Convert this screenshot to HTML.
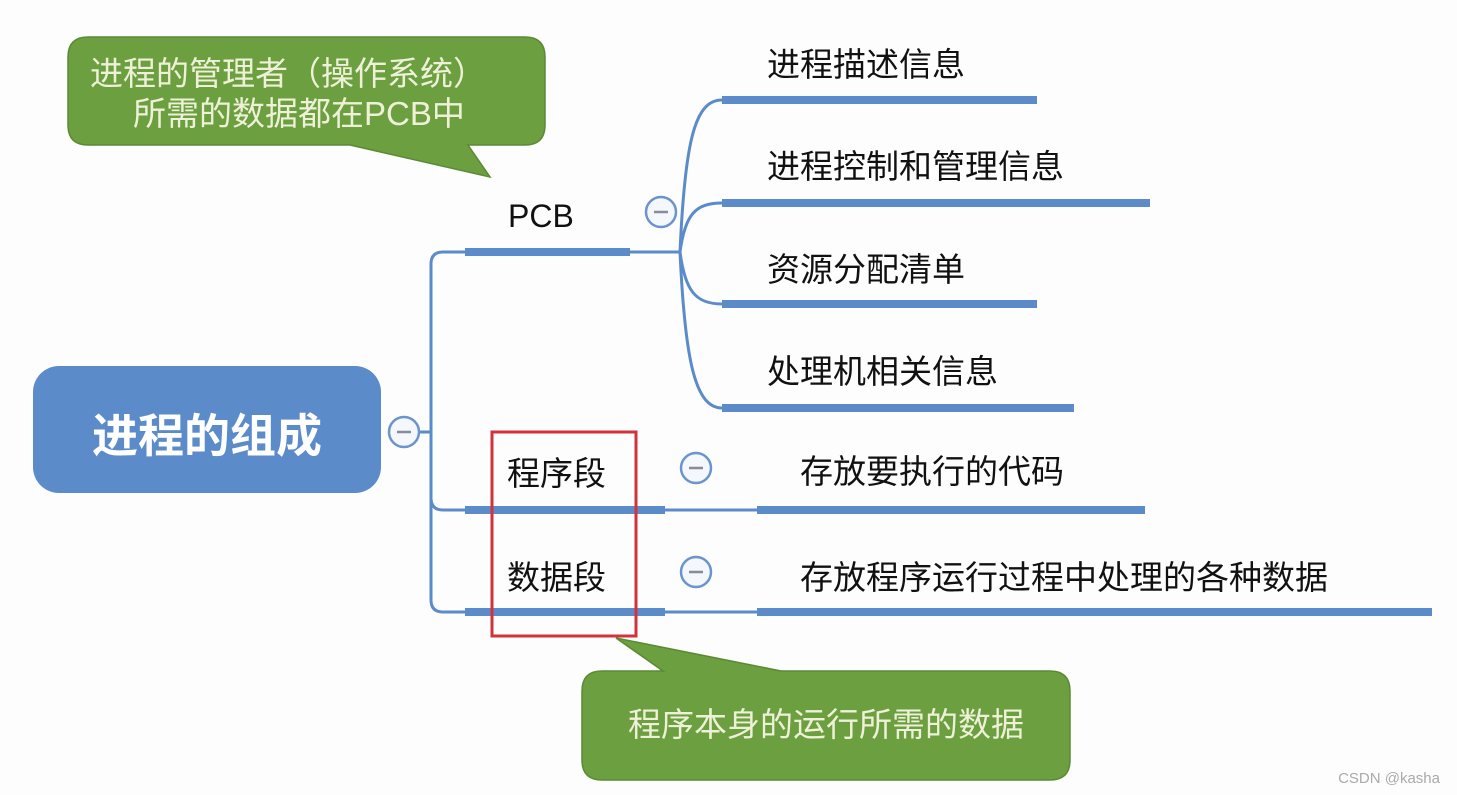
<!DOCTYPE html>
<html><head><meta charset="utf-8"><style>
html,body{margin:0;padding:0;background:#fff;}
svg{display:block;}
text{font-family:"Liberation Sans","Noto Sans CJK SC",sans-serif;}
</style></head><body>
<svg width="1457" height="795" viewBox="0 0 1457 795" xmlns="http://www.w3.org/2000/svg">
<rect width="1457" height="795" fill="#fdfdfd"/>
<!-- callout 1 -->
<path d="M88,37 H525 Q545,37 545,57 V125 Q545,145 525,145 H468 L490,177 L350,145 H88 Q68,145 68,125 V57 Q68,37 88,37 Z" fill="#6c9f3f" stroke="#5b8a34" stroke-width="1.5"/>
<text x="90" y="85" font-size="33" fill="#eef0d8">进程的管理者（操作系统）</text>
<text x="133" y="125" font-size="33" fill="#eef0d8">所需的数据都在PCB中</text>
<!-- root -->
<rect x="33" y="366" width="348" height="127" rx="26" fill="#5b8bc9"/>
<text x="207" y="452" font-size="46" font-weight="bold" fill="#fff" text-anchor="middle" font-family="Liberation Sans,Noto Sans CJK SC,sans-serif">进程的组成</text>
<g fill="none" stroke="#5b8bc9">
<line x1="390" y1="432" x2="431" y2="432" stroke-width="3"/>
<path d="M465,252 H443 Q431,252 431,264 V600 Q431,612 443,612 H465" stroke-width="3"/>
<path d="M431,498 Q431,510 443,510 H465" stroke-width="3"/>
<line x1="465" y1="252" x2="630" y2="252" stroke-width="8"/>
<line x1="630" y1="252" x2="680" y2="252" stroke-width="3"/>
<line x1="465" y1="510" x2="665" y2="510" stroke-width="8"/>
<line x1="665" y1="510" x2="757" y2="510" stroke-width="3"/>
<line x1="757" y1="510" x2="1145" y2="510" stroke-width="8"/>
<line x1="465" y1="612" x2="665" y2="612" stroke-width="8"/>
<line x1="665" y1="612" x2="757" y2="612" stroke-width="3"/>
<line x1="757" y1="612" x2="1432" y2="612" stroke-width="8"/>
<!-- pcb children -->
<path d="M680,252 C685,140 695,100 722,100" stroke-width="3"/>
<path d="M680,252 C685,215 695,203 722,203" stroke-width="3"/>
<path d="M680,252 C685,290 695,304 722,304" stroke-width="3"/>
<path d="M680,252 C685,360 695,408 722,408" stroke-width="3"/>
<line x1="722" y1="100" x2="1037" y2="100" stroke-width="8"/>
<line x1="722" y1="203" x2="1150" y2="203" stroke-width="8"/>
<line x1="722" y1="304" x2="1037" y2="304" stroke-width="8"/>
<line x1="722" y1="408" x2="1074" y2="408" stroke-width="8"/>
</g>
<!-- collapse circles -->
<g fill="#f4f7fc" stroke="#6b93cc" stroke-width="2.5">
<circle cx="404" cy="432" r="15"/>
<circle cx="661" cy="212" r="15"/>
<circle cx="696" cy="468" r="15"/>
<circle cx="696" cy="572" r="15"/>
</g>
<g stroke="#8a8a9a" stroke-width="2.5">
<line x1="397" y1="432" x2="411" y2="432"/>
<line x1="654" y1="212" x2="668" y2="212"/>
<line x1="689" y1="468" x2="703" y2="468"/>
<line x1="689" y1="572" x2="703" y2="572"/>
</g>
<!-- labels -->
<g font-size="33" fill="#111">
<text x="508" y="227" font-size="32">PCB</text>
<text x="767" y="76">进程描述信息</text>
<text x="767" y="178">进程控制和管理信息</text>
<text x="767" y="281">资源分配清单</text>
<text x="767" y="383">处理机相关信息</text>
<text x="507" y="485">程序段</text>
<text x="507" y="589">数据段</text>
<text x="800" y="483">存放要执行的代码</text>
<text x="800" y="589">存放程序运行过程中处理的各种数据</text>
</g>
<!-- red box -->
<rect x="492" y="432" width="144" height="204" fill="none" stroke="#d0343a" stroke-width="3"/>
<!-- callout 2 -->
<path d="M602,671 H663 L616,638 L781,671 H1050 Q1070,671 1070,691 V760 Q1070,780 1050,780 H602 Q582,780 582,760 V691 Q582,671 602,671 Z" fill="#6c9f3f" stroke="#5b8a34" stroke-width="1.5"/>
<text x="826" y="736" font-size="33" fill="#eef0d8" text-anchor="middle">程序本身的运行所需的数据</text>
<text x="1440" y="783" font-size="15" fill="#aaa" text-anchor="end">CSDN @kasha</text>
</svg>
</body></html>
